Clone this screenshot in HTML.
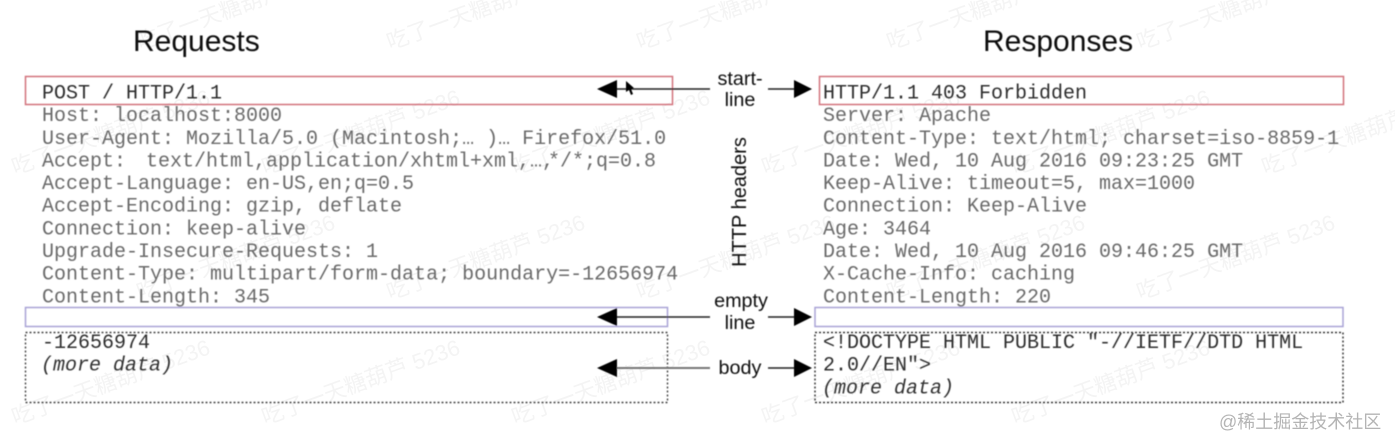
<!DOCTYPE html>
<html>
<head>
<meta charset="utf-8">
<style>
html,body{margin:0;padding:0;background:#fff;width:1395px;height:448px;overflow:hidden}
svg{display:block}
.m{font-family:"Liberation Mono",monospace;font-size:20px;fill:#6a6a6a}
.d{fill:#2e2e2e}
.i{font-style:italic;fill:#333}
.h{font-family:"Liberation Sans",sans-serif;font-size:30px;fill:#111}
.l{font-family:"Liberation Sans",sans-serif;font-size:19.8px;fill:#111;text-anchor:middle}
.w{font-family:"Liberation Sans","Noto Sans CJK SC",sans-serif;font-size:22px;fill:#f4f4f4}
</style>
</head>
<body>
<svg width="1395" height="448" viewBox="0 0 1395 448" xmlns="http://www.w3.org/2000/svg">
<defs><filter id="b" x="-2%" y="-2%" width="104%" height="104%"><feGaussianBlur stdDeviation="0.45"/></filter></defs>
<g class="w">
<text transform="translate(140,50) rotate(-20)">吃了一天糖葫芦 5236</text>
<text transform="translate(390,50) rotate(-20)">吃了一天糖葫芦 5236</text>
<text transform="translate(640,50) rotate(-20)">吃了一天糖葫芦 5236</text>
<text transform="translate(890,50) rotate(-20)">吃了一天糖葫芦 5236</text>
<text transform="translate(1140,50) rotate(-20)">吃了一天糖葫芦 5236</text>
<text transform="translate(15,175) rotate(-20)">吃了一天糖葫芦 5236</text>
<text transform="translate(265,175) rotate(-20)">吃了一天糖葫芦 5236</text>
<text transform="translate(515,175) rotate(-20)">吃了一天糖葫芦 5236</text>
<text transform="translate(765,175) rotate(-20)">吃了一天糖葫芦 5236</text>
<text transform="translate(1015,175) rotate(-20)">吃了一天糖葫芦 5236</text>
<text transform="translate(1265,175) rotate(-20)">吃了一天糖葫芦 5236</text>
<text transform="translate(140,300) rotate(-20)">吃了一天糖葫芦 5236</text>
<text transform="translate(390,300) rotate(-20)">吃了一天糖葫芦 5236</text>
<text transform="translate(640,300) rotate(-20)">吃了一天糖葫芦 5236</text>
<text transform="translate(890,300) rotate(-20)">吃了一天糖葫芦 5236</text>
<text transform="translate(1140,300) rotate(-20)">吃了一天糖葫芦 5236</text>
<text transform="translate(15,425) rotate(-20)">吃了一天糖葫芦 5236</text>
<text transform="translate(265,425) rotate(-20)">吃了一天糖葫芦 5236</text>
<text transform="translate(515,425) rotate(-20)">吃了一天糖葫芦 5236</text>
<text transform="translate(765,425) rotate(-20)">吃了一天糖葫芦 5236</text>
<text transform="translate(1015,425) rotate(-20)">吃了一天糖葫芦 5236</text>
</g>
<g filter="url(#b)">
<text class="h" x="133" y="51">Requests</text>
<text class="h" x="983" y="51">Responses</text>

<rect x="25.5" y="76.5" width="647" height="28" fill="none" stroke="#d2727c" stroke-width="1.5"/>
<rect x="819.5" y="76.5" width="524" height="28" fill="none" stroke="#d2727c" stroke-width="1.5"/>
<rect x="25.5" y="307.5" width="642" height="19" fill="none" stroke="#a9a3d6" stroke-width="1.5"/>
<rect x="815" y="307.5" width="528" height="19" fill="none" stroke="#a9a3d6" stroke-width="1.5"/>
<rect x="25.5" y="332.5" width="642" height="70" fill="none" stroke="#444" stroke-width="1.4" stroke-dasharray="2 2"/>
<rect x="815" y="332.5" width="528" height="70" fill="none" stroke="#333" stroke-width="1.4" stroke-dasharray="2 2"/>

<text class="m d" x="42" y="98.5">POST / HTTP/1.1</text>
<text class="m" x="42" y="121">Host: localhost:8000</text>
<text class="m" x="42" y="144">User-Agent: Mozilla/5.0 (Macintosh;… )… Firefox/51.0</text>
<text class="m" x="42" y="166.5">Accept:</text>
<text class="m" x="146" y="166.5">text/html,application/xhtml+xml</text>
<text class="m" x="518" y="166.5">,…,</text>
<text class="m" x="548" y="166.5">*/*;q=0.8</text>
<text class="m" x="42" y="189">Accept-Language: en-US,en;q=0.5</text>
<text class="m" x="42" y="211.5">Accept-Encoding: gzip, deflate</text>
<text class="m" x="42" y="234.5">Connection: keep-alive</text>
<text class="m" x="42" y="257">Upgrade-Insecure-Requests: 1</text>
<text class="m" x="42" y="279.5">Content-Type: multipart/form-data; boundary=-12656974</text>
<text class="m" x="42" y="302.5">Content-Length: 345</text>
<text class="m d" x="42" y="348">-12656974</text>
<text class="m i" x="41" y="370.5">(more data)</text>

<text class="m d" x="823" y="98.5">HTTP/1.1 403 Forbidden</text>
<text class="m" x="823" y="121">Server: Apache</text>
<text class="m" x="823" y="144">Content-Type: text/html; charset=iso-8859-1</text>
<text class="m" x="823" y="166.5">Date: Wed, 10 Aug 2016 09:23:25 GMT</text>
<text class="m" x="823" y="189">Keep-Alive: timeout=5, max=1000</text>
<text class="m" x="823" y="211.5">Connection: Keep-Alive</text>
<text class="m" x="823" y="234.5">Age: 3464</text>
<text class="m" x="823" y="257">Date: Wed, 10 Aug 2016 09:46:25 GMT</text>
<text class="m" x="823" y="279.5">X-Cache-Info: caching</text>
<text class="m" x="823" y="302.5">Content-Length: 220</text>
<text class="m d" x="823" y="348">&lt;!DOCTYPE HTML PUBLIC "-//IETF//DTD HTML</text>
<text class="m d" x="823" y="370.5">2.0//EN"&gt;</text>
<text class="m i" x="822" y="393.5">(more data)</text>

<text class="l" x="740" y="85">start-</text>
<text class="l" x="740" y="106">line</text>
<text class="l" x="741" y="307">empty</text>
<text class="l" x="740" y="329">line</text>
<text class="l" x="740" y="374">body</text>
<text class="l" style="font-size:20px" transform="translate(746,202) rotate(-90)">HTTP headers</text>

<g stroke="#222" stroke-width="1.6" fill="none">
<line x1="612" y1="89" x2="710" y2="89"/>
<line x1="768" y1="89" x2="800" y2="89"/>
<line x1="612" y1="317" x2="710" y2="317"/>
<line x1="768" y1="317" x2="800" y2="317"/>
<line x1="612" y1="368" x2="710" y2="368" stroke="#777" stroke-width="2"/>
<line x1="768" y1="368" x2="800" y2="368"/>
</g>
<g fill="#000">
<polygon points="597,89 617,80 617,98"/>
<polygon points="812,89 794,80 794,98"/>
<polygon points="597,317 617,308 617,326"/>
<polygon points="812,317 794,308 794,326"/>
<polygon points="597,368 617,359 617,377"/>
<polygon points="812,368 794,359 794,377"/>
<polygon points="626,81 626,92 629,90 631,95 633,94 631,89 634,88"/>
</g>
</g>
<text x="1219" y="428" style="font-family:'Liberation Sans','Noto Sans CJK SC',sans-serif;font-size:18px;fill:#b4b4b4">@稀土掘金技术社区</text>
</svg>
</body>
</html>
